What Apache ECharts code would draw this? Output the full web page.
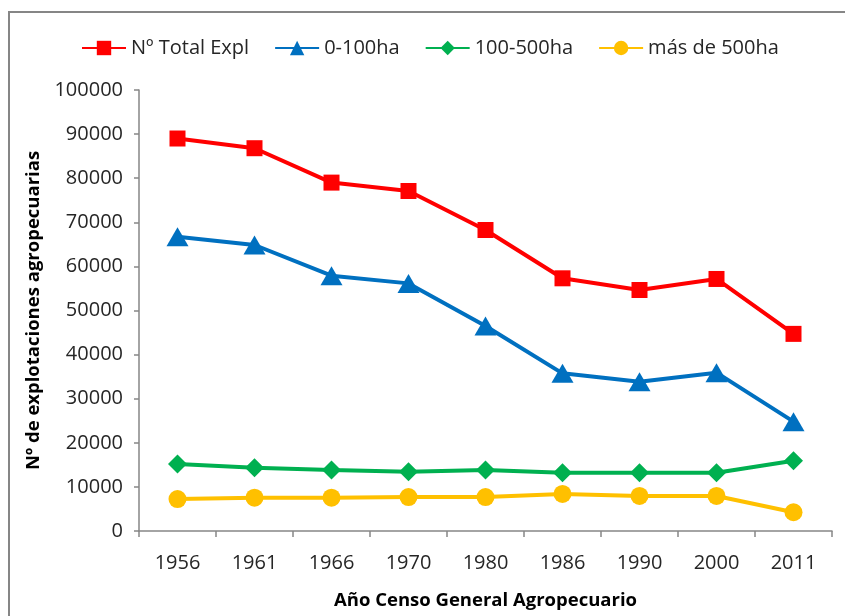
<!DOCTYPE html>
<html>
<head>
<meta charset="utf-8">
<script src="https://cdn.jsdelivr.net/npm/echarts@6/dist/echarts.min.js"></script>
<style>
html,body{margin:0;padding:0;background:#fff;}
#chart{width:845px;height:616px;}
</style>
</head>
<body>
<div id="chart"></div>
<script>
const years = ['1956','1961','1966','1970','1980','1986','1990','2000','2011'];
const totalExpl = [89000, 86800, 79000, 77100, 68250, 57300, 54650, 57150, 44700];
const ha0to100 = [66700, 64850, 57900, 56150, 46500, 35750, 33850, 35900, 24800];
const ha100to500 = [15200, 14350, 13850, 13450, 13850, 13200, 13200, 13200, 15950];
const haOver500 = [7250, 7550, 7550, 7700, 7700, 8400, 7950, 7950, 4250];
const seriesNames = ['Nº Total Expl', '0-100ha', '100-500ha', 'más de 500ha'];

const FONT = 'Open Sans';
const TXT = '#262626';
const AX = '#868686';

const chart = echarts.init(document.getElementById('chart'));

function mk(name, data, color, symbol, size) {
  return {
    name: name,
    type: 'line',
    data: data,
    symbol: symbol,
    symbolSize: size,
    showAllSymbol: true,
    lineStyle: {color: color, width: 4},
    itemStyle: {color: color},
    emphasis: {disabled: true},
    animation: false,
    z: 3
  };
}

chart.setOption({
  backgroundColor: '#ffffff',
  animation: false,
  graphic: [{
    type: 'rect',
    shape: {x: 9, y: 12, width: 900, height: 700},
    style: {fill: 'none', stroke: AX, lineWidth: 2},
    silent: true,
    z: 0
  }],
  legend: {
    left: 76,
    top: 33,
    itemWidth: 44,
    itemHeight: 18,
    itemGap: 25,
    textStyle: {fontFamily: FONT, fontSize: 20, color: TXT},
    data: seriesNames
  },
  grid: {left: 139, right: 13, top: 90, bottom: 85, containLabel: false},
  xAxis: {
    type: 'category',
    data: years,
    boundaryGap: true,
    axisLine: {lineStyle: {color: AX, width: 1.5}},
    axisTick: {show: true, length: 6, lineStyle: {color: AX, width: 1.5}},
    axisLabel: {fontFamily: FONT, fontSize: 20, color: TXT, margin: 22},
    name: 'Año Censo General Agropecuario',
    nameLocation: 'middle',
    nameGap: 60,
    nameTextStyle: {fontFamily: FONT, fontSize: 18.5, fontWeight: 'bold', color: '#000'},
    splitLine: {show: false}
  },
  yAxis: {
    type: 'value',
    min: 0,
    max: 100000,
    interval: 10000,
    axisLine: {show: true, lineStyle: {color: AX, width: 1.5}},
    axisTick: {show: true, length: 5, lineStyle: {color: AX, width: 1.5}},
    axisLabel: {fontFamily: FONT, fontSize: 20, color: TXT, margin: 16, formatter: function (v) { return String(v); }},
    splitLine: {show: false},
    name: 'Nº de explotaciones agropecuarias',
    nameLocation: 'middle',
    nameRotate: 90,
    nameGap: 95,
    nameTextStyle: {fontFamily: FONT, fontSize: 18.5, fontWeight: 'bold', color: '#000'}
  },
  series: [
    mk(seriesNames[0], totalExpl, '#FF0000', 'rect', 16),
    mk(seriesNames[1], ha0to100, '#0070C0', 'triangle', [22, 19]),
    mk(seriesNames[2], ha100to500, '#00B050', 'diamond', [19, 19]),
    mk(seriesNames[3], haOver500, '#FFC000', 'circle', 18)
  ]
});
</script>
</body>
</html>
